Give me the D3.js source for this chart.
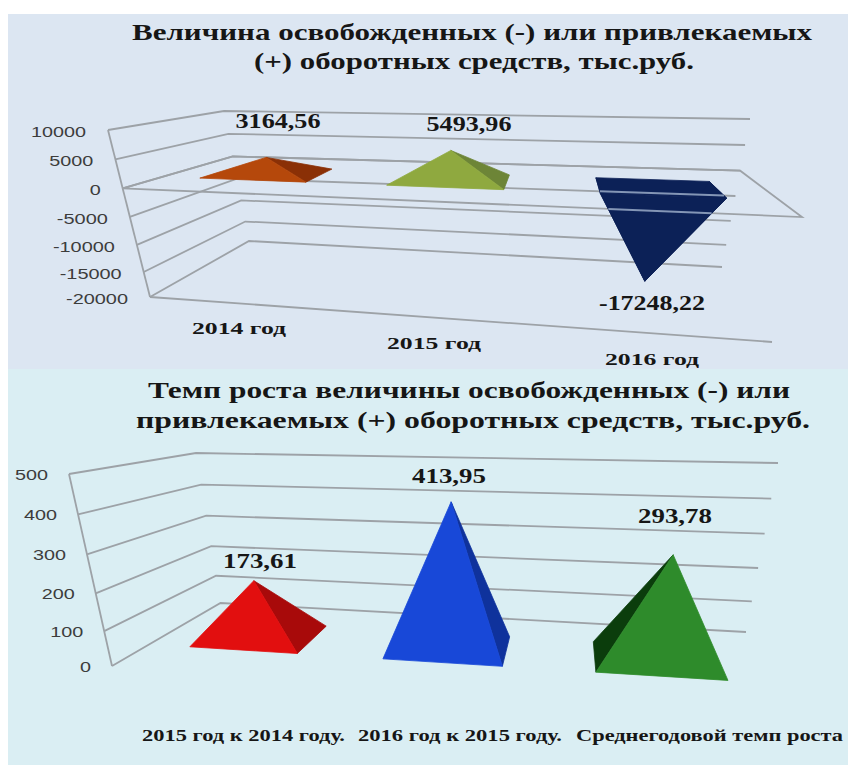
<!DOCTYPE html>
<html lang="ru">
<head>
<meta charset="utf-8">
<title>Оборотные средства</title>
<script src="https://cdnjs.cloudflare.com/ajax/libs/d3/7.8.5/d3.min.js"></script>
<style>
  html, body { margin: 0; padding: 0; background: #fff; }
  svg { display: block; }
  .serif { font-family: "Liberation Serif", serif; font-weight: 700; fill: #161616; }
  .tick { font-family: "Liberation Sans", sans-serif; fill: #3c3c3c; font-size: 15.5px; }
  .grid { fill: none; stroke: #9da2a7; stroke-width: 1.8; }
  .through { fill: none; stroke: #8496b6; stroke-width: 2; }
</style>
</head>
<body>
<svg id="chart" width="848" height="767"></svg>
<script>
// Chart values
const capitalYears = ["2014 год", "2015 год", "2016 год"];
const capitalValues = [3164.56, 5493.96, -17248.22];
const capitalValueLabels = ["3164,56", "5493,96", "-17248,22"];
const capitalTicks = [10000, 5000, 0, -5000, -10000, -15000, -20000];

const growthPeriods = ["2015 год к 2014 году.", "2016 год к 2015 году.", "Среднегодовой темп роста"];
const growthValues = [173.61, 413.95, 293.78];
const growthValueLabels = ["173,61", "413,95", "293,78"];
const growthTicks = [500, 400, 300, 200, 100, 0];

const svg = d3.select("#chart");

// Perspective box: each of the four vertical edges has its own scales from
// the value axis to the screen, and u (across) / w (depth) blend between them.
function makeBox(domain, edges) {
  const toUnit = d3.scaleLinear().domain(domain).range([0, 1]);
  const lift = d3.scalePow().exponent(1.06).domain([0, 1]).range([0, 1]);
  const edge = ([bottom, top]) => ({
    x: d3.scaleLinear().domain([0, 1]).range([bottom[0], top[0]]),
    y: d3.scaleLinear().domain([0, 1]).range([bottom[1], top[1]])
  });
  const lf = edge(edges.lf), rf = edge(edges.rf), rb = edge(edges.rb), lb = edge(edges.lb);
  return (u, value, w) => {
    const t = lift(toUnit(value));
    const blend = k => (1 - u) * (1 - w) * lf[k](t) + u * (1 - w) * rf[k](t) + u * w * rb[k](t) + (1 - u) * w * lb[k](t);
    return [blend("x"), blend("y")];
  };
}

const line = d3.line();

function drawLines(g, paths, cls) {
  g.selectAll(null).data(paths).join("path").attr("class", cls || "grid").attr("d", line);
}

// Text stretched to a given width, the way the captions sit on the slide
function label(g, text, cx, baseline, width, size, cls) {
  g.append("text").attr("class", cls)
    .attr("x", cx).attr("y", baseline)
    .attr("text-anchor", "middle")
    .attr("font-size", size)
    .attr("textLength", width)
    .attr("lengthAdjust", "spacingAndGlyphs")
    .text(text);
}

function pyramid(g, project, u, value, w, du, dw, floor, faces) {
  const fl = project(u - du, floor, w - dw), fr = project(u + du, floor, w - dw);
  const br = project(u + du, floor, w + dw), bl = project(u - du, floor, w + dw);
  const apex = project(u, value, w);
  const shapes = { front: [fl, fr, apex], right: [fr, br, apex], left: [fl, bl, apex], base: [fl, fr, br, bl], all: [fl, fr, br, bl, apex] };
  faces.forEach(f => {
    g.append("polygon")
      .attr("points", shapes[f.name].join(" "))
      .attr("fill", f.fill).attr("stroke", f.fill).attr("stroke-width", 0.8).attr("stroke-linejoin", "round");
  });
  return shapes;
}

// The part of a straight segment that lies inside a convex outline
function insideOutline(outline, a, b) {
  const along = d3.scaleLinear().domain([0, 1]);
  const at = t => [along.range([a[0], b[0]])(t), along.range([a[1], b[1]])(t)];
  const hits = d3.range(0, 1.0005, 0.001).map(at).filter(p => d3.polygonContains(outline, p));
  return hits.length ? [hits[0], hits[hits.length - 1]] : [];
}

// Slide panels
svg.append("rect").attr("x", 8).attr("y", 14).attr("width", 840).attr("height", 357).attr("fill", "#dce6f2");
svg.append("rect").attr("x", 8).attr("y", 369).attr("width", 840).attr("height", 396).attr("fill", "#daeef3");

/* ---------- Upper chart: released / attracted working capital ---------- */
const top3d = makeBox([-20000, 10000], {
  lf: [[150, 297], [108, 130]],
  rf: [[772, 342], [818, 150]],
  rb: [[722, 267], [750, 119]],
  lb: [[249, 241], [224, 111]]
});
const topG = svg.append("g");
const topU = d3.scaleOrdinal(capitalYears, [0.146, 0.458, 0.812]);
const topHalf = d3.scaleOrdinal(capitalYears, [0.086, 0.095, 0.1025]);
const topW = 0.55, topDw = 0.185;

label(topG, "Величина освобожденных (-) или привлекаемых", 472, 40, 680, 24, "serif");
label(topG, "(+) оборотных средств, тыс.руб.", 474, 69, 440, 24, "serif");

// Side wall and back wall grid
const wallPaths = ticks => ticks.map(v => [top3d(0, v, 0), top3d(0, v, 1), top3d(1, v, 1)]);
drawLines(topG, wallPaths(capitalTicks));
drawLines(topG, [[top3d(0, d3.max(capitalTicks), 0), top3d(0, d3.min(capitalTicks), 0)]]);
drawLines(topG, [[top3d(0, d3.min(capitalTicks), 0), top3d(1, d3.min(capitalTicks), 0)]]);
// Zero plane
const zeroPlane = [top3d(0, 0, 0), top3d(0, 0, 1), top3d(1, 0, 1), top3d(1, 0, 0), top3d(0, 0, 0)];
drawLines(topG, [zeroPlane]);

capitalTicks.forEach(v => {
  const [x, y] = top3d(0, v, 0);
  const w = String(v).length * 11 + (v < 0 ? -4 : 0);
  topG.append("text").attr("class", "tick")
    .attr("x", x - 22 - w / 2).attr("y", y + 7)
    .attr("text-anchor", "middle")
    .attr("textLength", w).attr("lengthAdjust", "spacingAndGlyphs")
    .text(v);
});

const capitalFaces = [
  [{ name: "right", fill: "#8a3006" }, { name: "front", fill: "#b5480b" }],
  [{ name: "right", fill: "#6d8537" }, { name: "front", fill: "#8fa93f" }],
  [{ name: "base", fill: "#0c2157" }, { name: "left", fill: "#0c2157" }, { name: "right", fill: "#0c2157" }, { name: "front", fill: "#0c2157" }]
];
const capitalShapes = capitalYears.map((c, i) =>
  pyramid(topG, top3d, topU(c), capitalValues[i], topW, topHalf(c), topDw, 0, capitalFaces[i]));

// Plane edge and a grid line shine through the inverted pyramid
const negativeOutline = d3.polygonHull(capitalShapes[2].all);
drawLines(topG, [
  insideOutline(negativeOutline, top3d(0, 0, 0), top3d(1, 0, 0)),
  insideOutline(negativeOutline, top3d(0, -5000, 1), top3d(1, -5000, 1))
], "through");

const topLabelPos = [[278, 128], [469, 131], [652, 310]];
capitalValueLabels.forEach((t, i) => label(topG, t, topLabelPos[i][0], topLabelPos[i][1], i === 2 ? 106 : 85, 21, "serif"));
const topCatPos = [[239, 334], [434, 349], [652, 365]];
capitalYears.forEach((t, i) => label(topG, t, topCatPos[i][0], topCatPos[i][1], 94, 17, "serif"));

/* ---------- Lower chart: growth rate ---------- */
const low3d = makeBox([0, 500], {
  lf: [[112, 666], [69, 474]],
  rf: [[800, 711], [855, 495]],
  rb: [[746, 632], [778, 463]],
  lb: [[220.5, 603], [196, 453]]
});
const lowG = svg.append("g");
const lowU = d3.scaleOrdinal(growthPeriods, [0.149, 0.464, 0.811]);
const lowHalf = d3.scaleOrdinal(growthPeriods, [0.085, 0.0945, 0.1045]);
const lowW = 0.55, lowDw = 0.205;

label(lowG, "Темп роста величины освобожденных (-) или", 469, 398, 642, 24, "serif");
label(lowG, "привлекаемых (+) оборотных средств, тыс.руб.", 473, 428, 674, 24, "serif");

drawLines(lowG, growthTicks.map(v => [low3d(0, v, 0), low3d(0, v, 1), low3d(1, v, 1)]));
drawLines(lowG, [[low3d(0, d3.max(growthTicks), 0), low3d(0, d3.min(growthTicks), 0)]]);

growthTicks.forEach(v => {
  const [x, y] = low3d(0, v, 0);
  const w = String(v).length * 11;
  lowG.append("text").attr("class", "tick")
    .attr("x", x - 21 - w / 2).attr("y", y + 6)
    .attr("text-anchor", "middle")
    .attr("textLength", w).attr("lengthAdjust", "spacingAndGlyphs")
    .text(v);
});

const growthFaces = [
  [{ name: "right", fill: "#a80a0a" }, { name: "front", fill: "#e20f0f" }],
  [{ name: "right", fill: "#0f329c" }, { name: "front", fill: "#1848d8" }],
  [{ name: "left", fill: "#0b3d0c" }, { name: "front", fill: "#2e8b2b" }]
];
growthPeriods.forEach((c, i) =>
  pyramid(lowG, low3d, lowU(c), growthValues[i], lowW, lowHalf(c), lowDw, 0, growthFaces[i]));

const lowLabelPos = [[260, 568], [449, 483], [675, 523]];
growthValueLabels.forEach((t, i) => label(lowG, t, lowLabelPos[i][0], lowLabelPos[i][1], 74, 21, "serif"));
const lowCatPos = [[243.5, 203], [460, 204], [709.5, 267]];
growthPeriods.forEach((t, i) => label(lowG, t, lowCatPos[i][0], 741, lowCatPos[i][1], 16, "serif"));
</script>
</body>
</html>
